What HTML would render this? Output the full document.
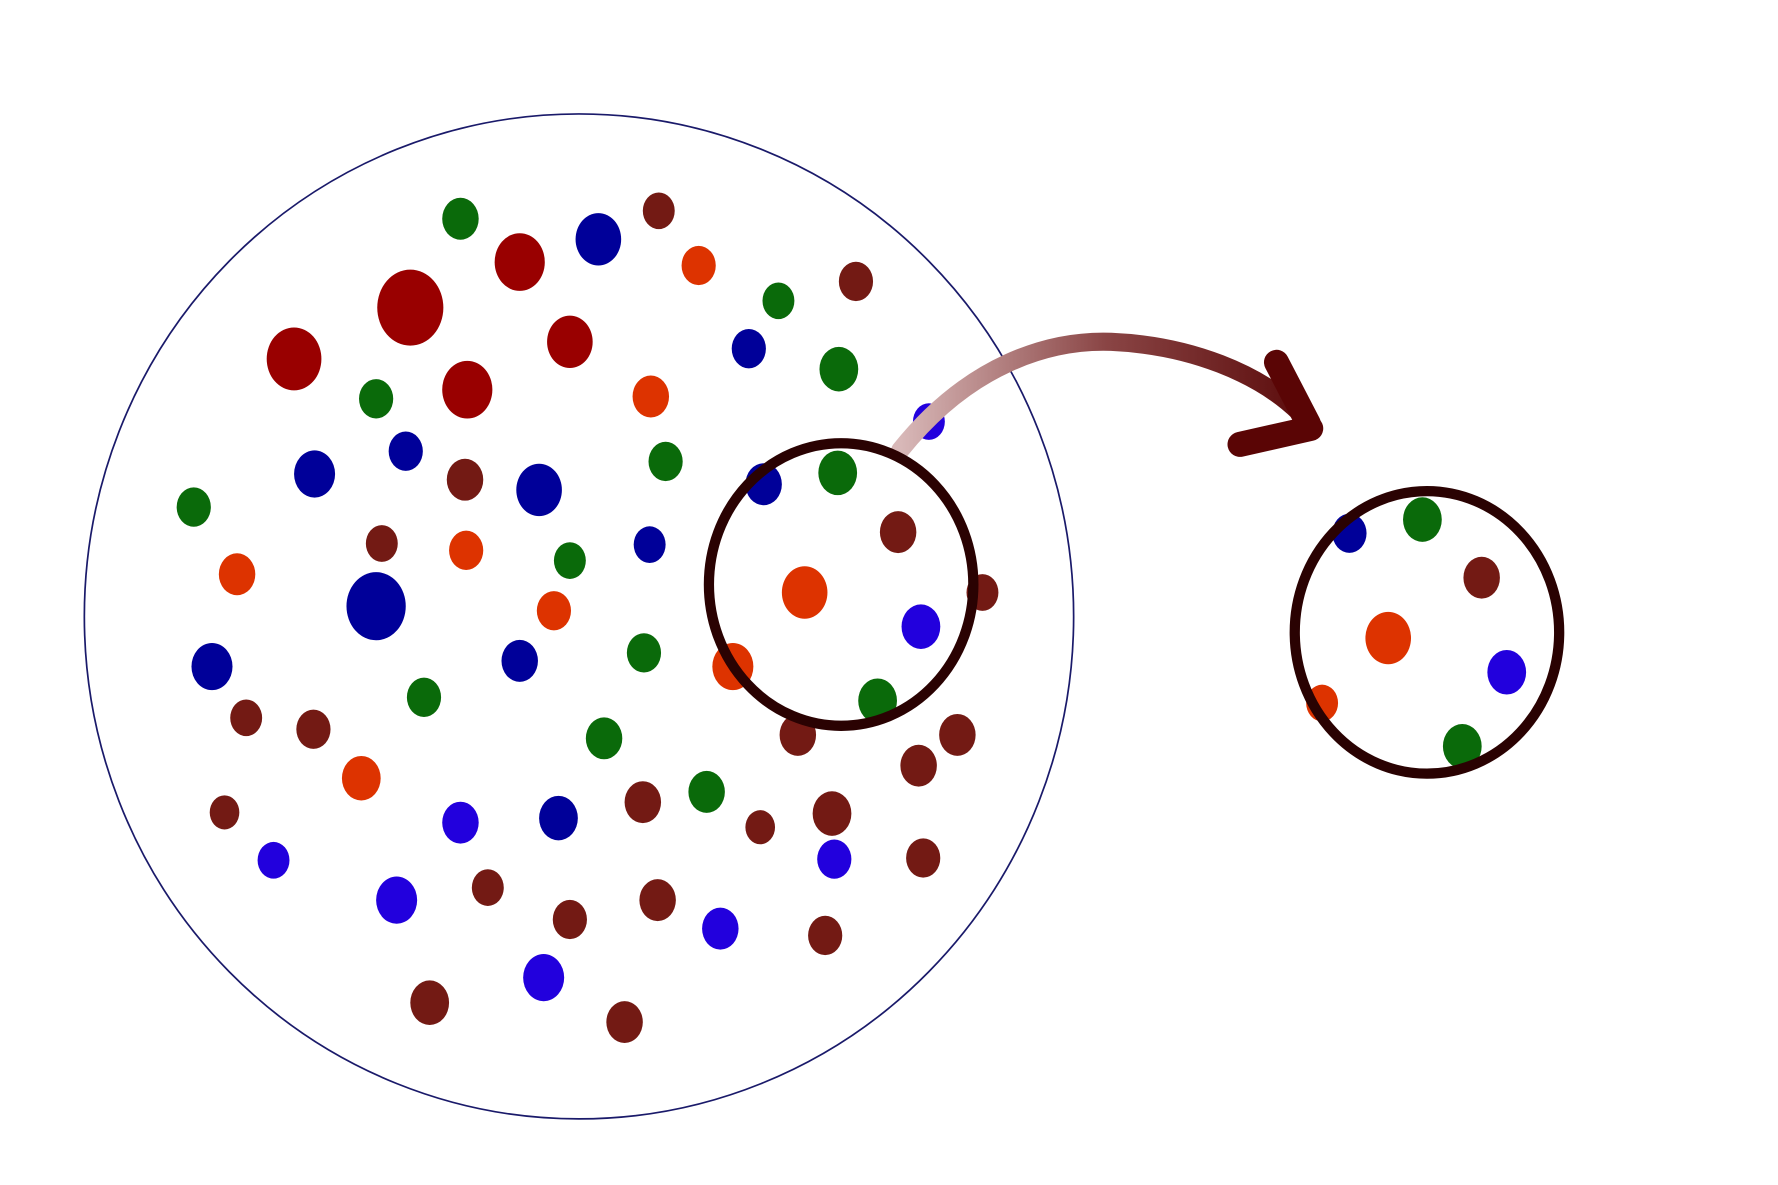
<!DOCTYPE html>
<html><head><meta charset="utf-8"><style>html,body{margin:0;padding:0;background:#fff}svg{display:block}</style></head>
<body>
<svg id="chart" width="1778" height="1185" viewBox="0 0 1560 1040" preserveAspectRatio="none" xmlns="http://www.w3.org/2000/svg">
<defs>
<linearGradient id="ag" x1="790" y1="0" x2="1150" y2="0" gradientUnits="userSpaceOnUse">
<stop offset="0" stop-color="#d8b8b8"/><stop offset="0.5" stop-color="#8a4545"/><stop offset="1" stop-color="#5a0a0a"/>
</linearGradient>
</defs>
<ellipse cx="508" cy="541" rx="434" ry="441" fill="none" stroke="#1a1a6a" stroke-width="1.5"/>
<g id="dots"></g>
<path d="M790,395 C850,320 920,298 975,300 C1045,303 1105,328 1140,362" fill="none" stroke="url(#ag)" stroke-width="16" stroke-linecap="round"/>
<path d="M1120,318 L1148,372 M1150,376 L1088,390" fill="none" stroke="#5a0505" stroke-width="22" stroke-linecap="round"/>
<ellipse cx="738" cy="513" rx="116" ry="124" fill="none" stroke="#2a0202" stroke-width="9"/>
<ellipse cx="1252" cy="555" rx="116" ry="124" fill="none" stroke="#2a0202" stroke-width="9"/>
</svg>
<script>
const dotX=[404,330,170,584,500,565,372,530,620,683,736,735,770, 456,360,258,410,500, 613,571,208,409,486,317,706,643, 525,657,356,276,473,570,330,186,456,490,670, 815,808,404,240,348,477,632,732, 578,751,408,335,216,275,700,788,862,806,840,197,564,667,730,810,428,500,577,724,377,548, 1184,1248,1300,1218,1322,1160,1283];
const dotY=[192,350,445,405,492,573,612,648,695,264,324,415,615, 230,270,315,342,300, 233,348,504,483,536,683,520,585, 210,306,396,416,430,478,532,585,580,718,425, 370,550,722,755,790,858,815,754, 185,247,421,477,630,640,645,467,520,672,645,713,704,726,714,753,779,807,790,821,880,897, 468,456,507,560,590,617,655];
const dotType=["g","g","g","g","g","g","g","g","g","g","g","g","g", "r","r","r","r","r", "o","o","o","o","o","o","o","o", "n","n","n","n","n","n","n","n","n","n","n", "b","b","b","b","b","b","b","b", "m","m","m","m","m","m","m","m","m","m","m","m","m","m","m","m","m","m","m","m","m","m", "n","g","m","o","b","o","g"];
const dotSize=[16,15,15,15,14,15,15,16,16,14,17,17,17, 22,29,24,22,20, 15,16,16,15,15,17,20,18, 20,15,15,18,20,14,26,18,16,17,16, 14,17,16,14,18,18,16,15, 14,15,16,14,14,15,16,16,14,16,16,13,16,13,17,15,14,15,16,15,17,16, 15,17,16,20,17,14,17];
const colors={g:"#0a6a0a",r:"#990000",o:"#dd3300",n:"#000099",b:"#2200dd",m:"#731a14"};
const g=document.getElementById('dots');
for(let i=0;i<dotX.length;i++){
 const e=document.createElementNS('http://www.w3.org/2000/svg','ellipse');
 e.setAttribute('cx',dotX[i]);e.setAttribute('cy',dotY[i]);
 e.setAttribute('rx',dotSize[i]);e.setAttribute('ry',dotSize[i]*1.15);
 e.setAttribute('fill',colors[dotType[i]]);
 
 
 g.appendChild(e);
}
</script>
</body></html>
